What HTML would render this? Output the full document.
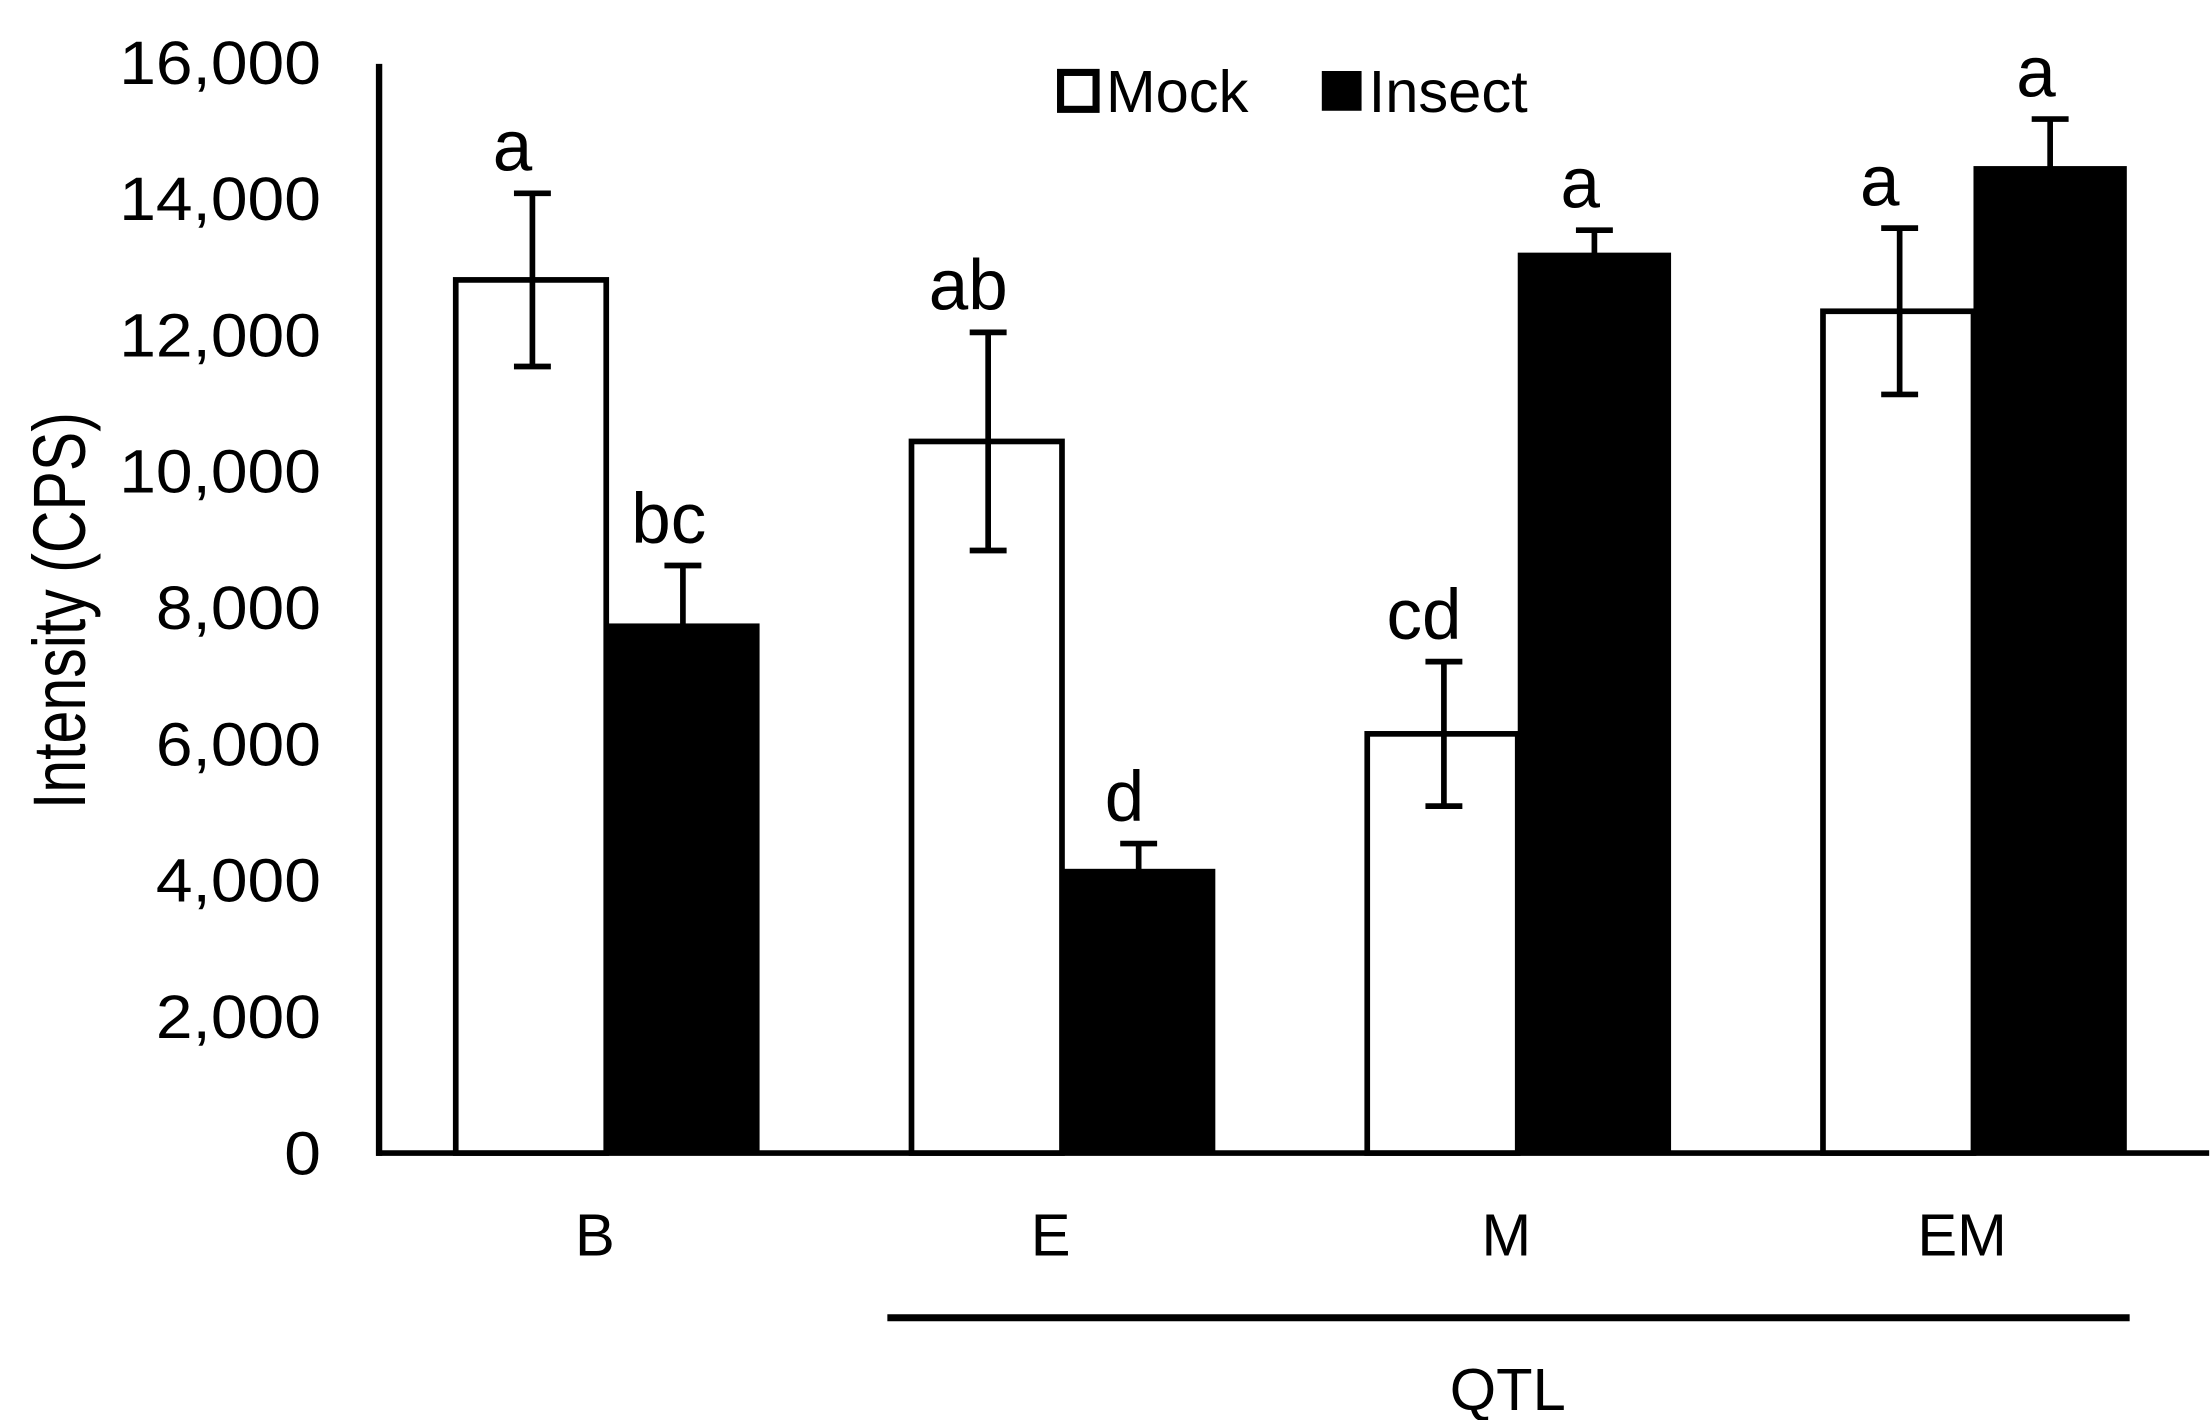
<!DOCTYPE html>
<html><head><meta charset="utf-8"><style>
html,body{margin:0;padding:0;background:#fff;}
svg{display:block;}
text{font-family:"Liberation Sans",sans-serif;fill:#000;}
</style></head><body>
<svg id="chart" width="2212" height="1420" viewBox="0 0 1558 1000" preserveAspectRatio="none" xmlns="http://www.w3.org/2000/svg">
<g id="axes"></g>
<g id="bars"></g>
<g id="labels"></g>
<text transform="translate(60,430) rotate(-90) scale(0.8,1)" text-anchor="middle" font-size="52">Intensity (CPS)</text>
<g>
  <rect x="747" y="51" width="25" height="26" fill="#fff" stroke="#000" stroke-width="5"/>
  <text x="779" y="79" font-size="42">Mock</text>
  <rect x="931" y="50" width="28" height="28" fill="#000"/>
  <text x="964" y="79" font-size="42">Insect</text>
</g>
<line x1="625" y1="928" x2="1500" y2="928" stroke="#000" stroke-width="5"/>
<text x="1062" y="993" text-anchor="middle" font-size="42">QTL</text>
</svg>
<script>
const categories = ["B","E","M","EM"];
const mockValues = [12810,10440,6150,12350];
const mockErrors = [1270,1600,1060,1220];
const insectValues = [7770,4170,13210,14480];
const insectErrors = [850,370,330,690];
const mockLetters = ["a","ab","cd","a"];
const insectLetters = ["bc","d","a","a"];
const yTicks = [0,2000,4000,6000,8000,10000,12000,14000,16000];
const yTickLabels = ["0","2,000","4,000","6,000","8,000","10,000","12,000","14,000","16,000"];

const NS="http://www.w3.org/2000/svg";
const y0=812, yPer=96/2000;
function y(v){return y0 - v*yPer;}
const groupStart=319, groupStep=321, barW=108;
function xMock(i){return groupStart+i*groupStep;}
function xIns(i){return xMock(i)+barW;}
function mk(tag,attrs,parent){const e=document.createElementNS(NS,tag);for(const k in attrs)e.setAttribute(k,attrs[k]);parent.appendChild(e);return e;}
const axes=document.getElementById('axes'), bars=document.getElementById('bars'), labels=document.getElementById('labels');

let ya=mk('line',{x1:267,y1:45,x2:267,y2:814,stroke:'#000','stroke-width':4.5},axes);


let xa=mk('line',{x1:265,y1:812,x2:1556,y2:812,stroke:'#000','stroke-width':4},axes);



yTicks.forEach((t,i)=>{
  const tx=mk('text',{x:226,y:y(t)+15,'text-anchor':'end','font-size':43,transform:'translate(226,0) scale(1.08,1) translate(-226,0)'},axes);
  tx.textContent=yTickLabels[i];
  
  
});

function errBar(cx,v,e,name){
  const g=mk('g',{},bars);
  
  
  mk('line',{x1:cx,y1:y(v+e),x2:cx,y2:y(v-e),stroke:'#000','stroke-width':4},g);
  mk('line',{x1:cx-13,y1:y(v+e),x2:cx+13,y2:y(v+e),stroke:'#000','stroke-width':4},g);
  mk('line',{x1:cx-13,y1:y(v-e),x2:cx+13,y2:y(v-e),stroke:'#000','stroke-width':4},g);
}

categories.forEach((c,i)=>{
  const xm=xMock(i), xi=xIns(i);
  const bm=mk('rect',{x:xm+2,y:y(mockValues[i]),width:barW-2,height:y0-y(mockValues[i]),fill:'#fff',stroke:'#000','stroke-width':4},bars);
  
  
  const bi=mk('rect',{x:xi,y:y(insectValues[i]),width:barW,height:y0-y(insectValues[i]),fill:'#000'},bars);
  
  
  errBar(xm+barW/2+2,mockValues[i],mockErrors[i],'error-bar-mock-'+c.toLowerCase());
  errBar(xi+barW/2,insectValues[i],insectErrors[i],'error-bar-insect-'+c.toLowerCase());
  const lm=mk('text',{x:xm+barW/2-12,y:y(mockValues[i]+mockErrors[i])-16,'text-anchor':'middle','font-size':50},labels);
  lm.textContent=mockLetters[i];
  
  
  const li=mk('text',{x:xi+barW/2-10,y:y(insectValues[i]+insectErrors[i])-16,'text-anchor':'middle','font-size':50},labels);
  li.textContent=insectLetters[i];
  
  
  const cl=mk('text',{x:xm+barW-8,y:884,'text-anchor':'middle','font-size':42},labels);
  cl.textContent=c;
  
  
});
</script>
</body></html>
